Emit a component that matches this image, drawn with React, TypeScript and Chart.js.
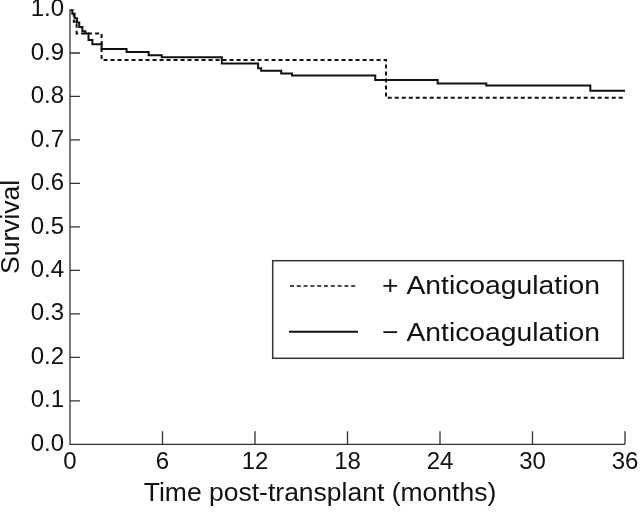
import React, { useEffect, useRef } from 'react';
import { Chart, registerables } from 'chart.js';

Chart.register(...registerables);

// + Anticoagulation (dashed)
const plusTimes = [0, 0.25, 0.43, 2.05, 20.5, 36];
const plusSurvival = [1.0, 0.972, 0.945, 0.884, 0.797, 0.797];

// − Anticoagulation (solid)
const minusTimes = [0, 0.15, 0.3, 0.45, 0.6, 0.8, 1.0, 1.2, 1.45, 2.05, 3.67, 5.1, 5.95, 9.85, 12.2, 12.4, 13.7, 14.4, 19.8, 23.85, 27.0, 33.75, 36];
const minusSurvival = [1.0, 0.99, 0.98, 0.97, 0.96, 0.95, 0.945, 0.93, 0.92, 0.909, 0.902, 0.895, 0.89, 0.876, 0.865, 0.859, 0.853, 0.848, 0.838, 0.83, 0.825, 0.813, 0.813];

const seriesLabels = ['+ Anticoagulation', '\u2212 Anticoagulation'];
const xTickValues = [0, 6, 12, 18, 24, 30, 36];
const yTickValues = [0, 0.1, 0.2, 0.3, 0.4, 0.5, 0.6, 0.7, 0.8, 0.9, 1.0];
const xTitle = 'Time post-transplant (months)';
const yTitle = 'Survival';

const FONT = '"Liberation Sans", Arial, sans-serif';
const INK = '#111';

const axesAndLegend = {
  id: 'axesAndLegend',
  afterDraw(chart: any) {
    const { ctx, chartArea, scales } = chart;
    const xs = scales.x;
    const ys = scales.y;
    ctx.save();
    ctx.strokeStyle = '#333';
    ctx.lineWidth = 1.3;
    ctx.setLineDash([]);
    // axis lines
    ctx.beginPath();
    ctx.moveTo(chartArea.left, chartArea.top);
    ctx.lineTo(chartArea.left, chartArea.bottom);
    ctx.lineTo(chartArea.right, chartArea.bottom);
    ctx.stroke();
    // inward ticks
    ctx.beginPath();
    yTickValues.forEach((v) => {
      if (v === 0 || v === 1) return;
      const py = ys.getPixelForValue(v);
      ctx.moveTo(chartArea.left, py);
      ctx.lineTo(chartArea.left + 10, py);
    });
    xTickValues.forEach((v) => {
      if (v === 0) return;
      const px = xs.getPixelForValue(v);
      ctx.moveTo(px, chartArea.bottom);
      ctx.lineTo(px, chartArea.bottom - 13);
    });
    ctx.stroke();

    // x axis title, centred on the figure
    ctx.fillStyle = INK;
    ctx.font = `26.5px ${FONT}`;
    ctx.textAlign = 'center';
    ctx.textBaseline = 'middle';
    ctx.fillText(xTitle, 320, 494);

    // legend box
    ctx.lineWidth = 1.5;
    ctx.strokeStyle = '#333';
    ctx.strokeRect(272.7, 260.7, 350.6, 97.6);
    // samples
    ctx.strokeStyle = INK;
    ctx.lineWidth = 1.4;
    ctx.setLineDash([4, 2.8]);
    ctx.beginPath();
    ctx.moveTo(290, 286);
    ctx.lineTo(358, 286);
    ctx.stroke();
    ctx.setLineDash([]);
    ctx.lineWidth = 2;
    ctx.beginPath();
    ctx.moveTo(289, 331.7);
    ctx.lineTo(358, 331.7);
    ctx.stroke();
    // texts (stretched horizontally to the reference's wider face)
    ctx.fillStyle = INK;
    ctx.font = `26px ${FONT}`;
    ctx.textAlign = 'left';
    ctx.textBaseline = 'alphabetic';
    const w0 = ctx.measureText(chart.data.datasets[0].label).width || 1;
    const k = 218 / w0;
    const drawStretched = (text: string, x: number, y: number) => {
      ctx.save();
      ctx.translate(x, y);
      ctx.scale(k, 1);
      ctx.fillText(text, 0, 0);
      ctx.restore();
    };
    drawStretched(chart.data.datasets[0].label, 382, 294);
    drawStretched(chart.data.datasets[1].label, 382, 340.5);
    ctx.restore();
  },
};

export default function App() {
  const canvasRef = useRef<HTMLCanvasElement | null>(null);

  useEffect(() => {
    const canvas = canvasRef.current;
    if (!canvas) return;
    const chart = new Chart(canvas, {
      type: 'line',
      data: {
        datasets: [
          {
            label: seriesLabels[0],
            data: plusTimes.map((t, i) => ({ x: t, y: plusSurvival[i] })),
            borderColor: INK,
            borderWidth: 2,
            borderDash: [4, 3],
            stepped: 'before',
            pointRadius: 0,
            fill: false,
          },
          {
            label: seriesLabels[1],
            data: minusTimes.map((t, i) => ({ x: t, y: minusSurvival[i] })),
            borderColor: INK,
            borderWidth: 2,
            stepped: 'before',
            pointRadius: 0,
            fill: false,
          },
        ],
      },
      options: {
        animation: false,
        responsive: false,
        maintainAspectRatio: false,
        layout: { padding: { top: 9.5, right: 15, left: 0, bottom: 0 } },
        plugins: {
          legend: { display: false },
          tooltip: { enabled: false },
        },
        scales: {
          x: {
            type: 'linear',
            min: 0,
            max: 36,
            afterBuildTicks: (s: any) => {
              s.ticks = xTickValues.map((v) => ({ value: v }));
            },
            ticks: {
              autoSkip: false,
              maxRotation: 0,
              padding: 4,
              color: INK,
              font: { family: FONT, size: 24 },
              callback: (v: any) => String(v),
            },
            grid: { display: false, drawTicks: false },
            border: { display: false },
            title: { display: false, text: xTitle },
            afterFit: (s: any) => {
              s.height = 67.7;
              s.paddingLeft = 0;
              s.paddingRight = 0;
            },
          },
          y: {
            type: 'linear',
            min: 0,
            max: 1,
            afterBuildTicks: (s: any) => {
              s.ticks = yTickValues.map((v) => ({ value: v }));
            },
            ticks: {
              autoSkip: false,
              padding: 6,
              color: INK,
              font: { family: FONT, size: 24 },
              callback: (v: any) => Number(v).toFixed(1),
            },
            grid: { display: false, drawTicks: false },
            border: { display: false },
            title: {
              display: true,
              text: yTitle,
              color: INK,
              font: { family: FONT, size: 26.5 },
              padding: { top: -4, bottom: 0 },
            },
            afterFit: (s: any) => {
              s.width = 70;
              s.paddingTop = 0;
              s.paddingBottom = 0;
            },
          },
        },
      },
      plugins: [axesAndLegend],
    });
    return () => chart.destroy();
  }, []);

  return (
    <div style={{ position: 'absolute', left: 0, top: 0, width: 640, height: 512, background: '#fff' }}>
      <canvas ref={canvasRef} width={640} height={512} style={{ width: 640, height: 512, display: 'block' }} />
    </div>
  );
}
